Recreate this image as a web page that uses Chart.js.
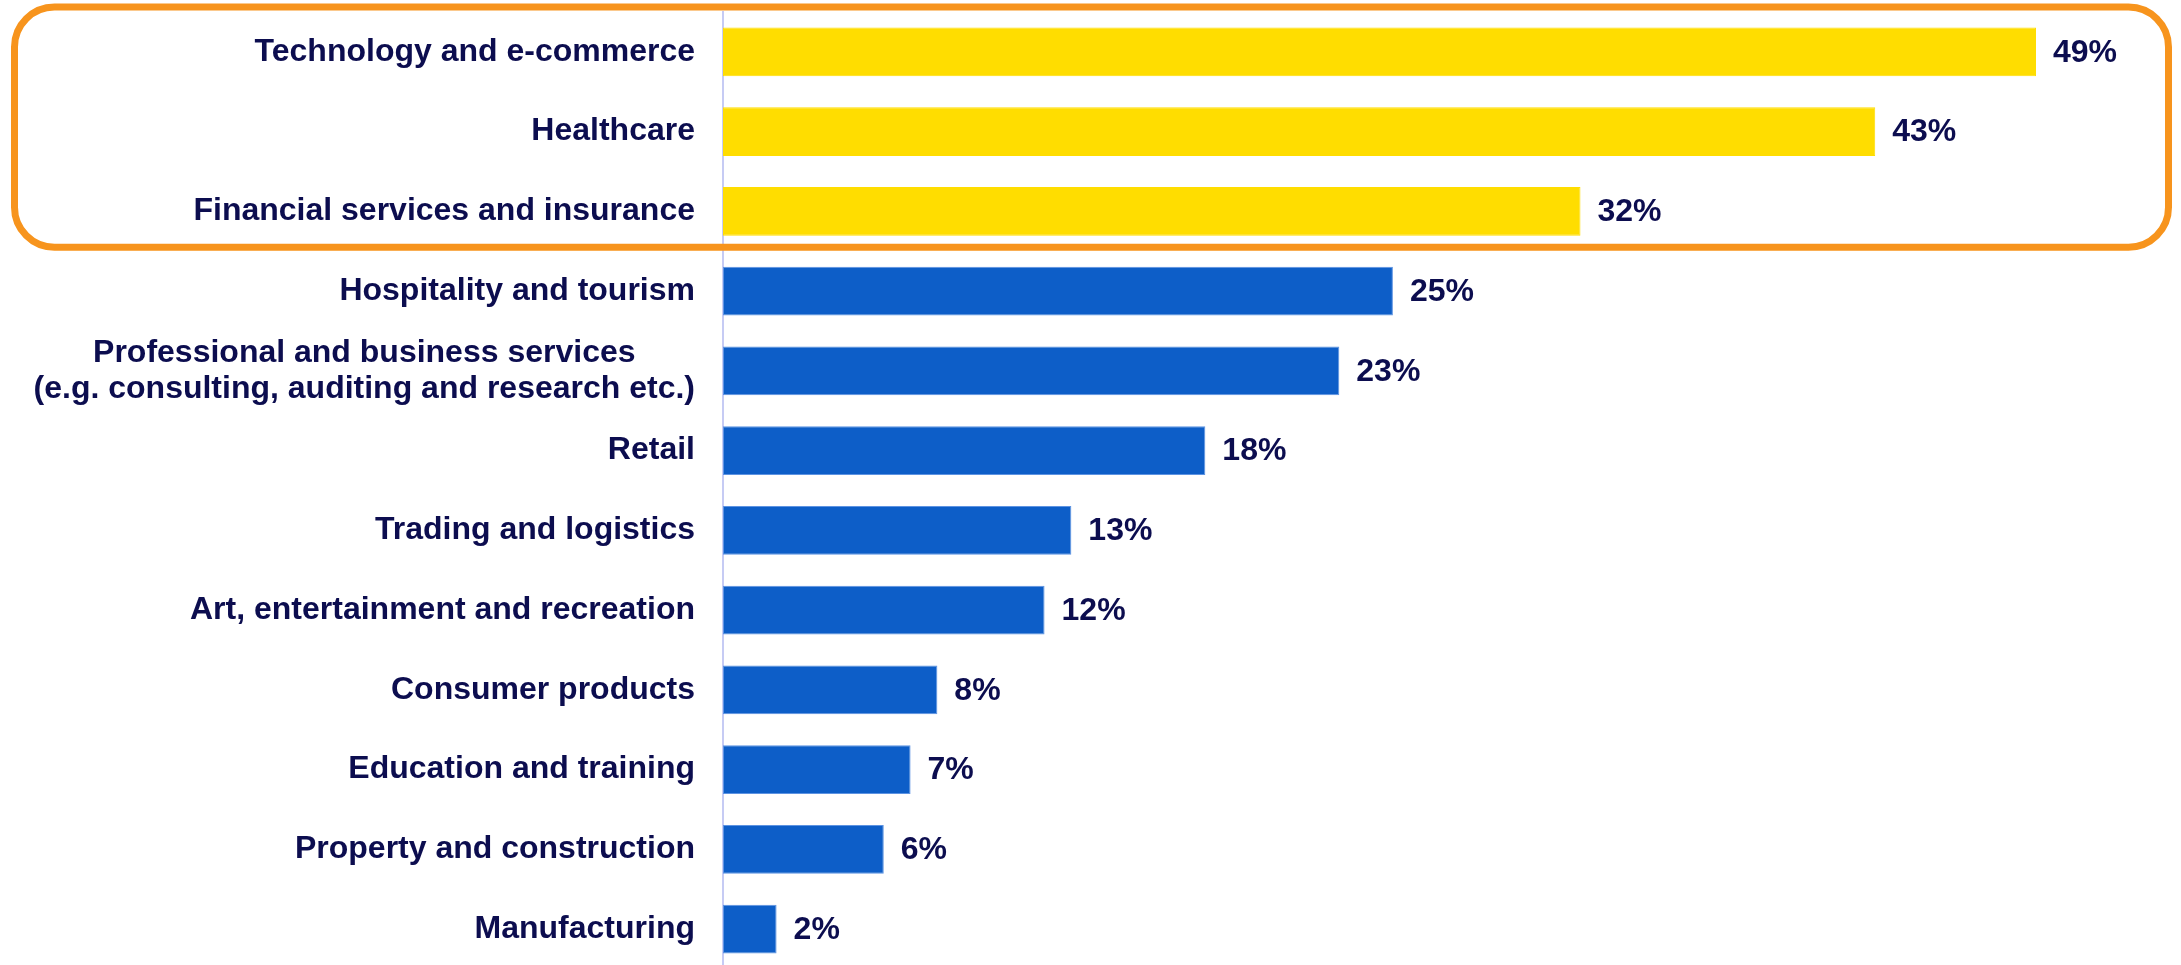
<!DOCTYPE html>
<html>
<head>
<meta charset="utf-8">
<title>Sectors</title>
<script src="https://cdn.jsdelivr.net/npm/chart.js@4.4.1/dist/chart.umd.min.js"></script>
<style>
  html, body { margin: 0; padding: 0; background: #ffffff; overflow: hidden; }
  #wrap { position: relative; width: 2181px; height: 969px; }
</style>
</head>
<body>
<div id="wrap"><canvas id="chart"></canvas></div>
<script>
// Sectors, each label given as its lines of text
const categories = [
  ['Technology and e-commerce'],
  ['Healthcare'],
  ['Financial services and insurance'],
  ['Hospitality and tourism'],
  ['Professional and business services', '(e.g. consulting, auditing and research etc.)'],
  ['Retail'],
  ['Trading and logistics'],
  ['Art, entertainment and recreation'],
  ['Consumer products'],
  ['Education and training'],
  ['Property and construction'],
  ['Manufacturing']
];

// Share of respondents (%)
const shares = [49, 43, 32, 25, 23, 18, 13, 12, 8, 7, 6, 2];

// Leading sectors picked out in yellow and framed
const highlightCount = 3;

const TEXT = '#0c0d4f';
const YELLOW = '#ffdd00';
const BLUE = '#0d5ec8';
const BLUE_EDGE = '#5d93e2';
const ORANGE = '#f7941d';
const AXIS = '#c6cbf4';
const FONT = '"Liberation Sans", Arial, Helvetica, sans-serif';

// Category labels: right-anchored block, lines centred within it
const categoryLabels = {
  id: 'categoryLabels',
  afterDraw(chart) {
    const { ctx } = chart;
    const y = chart.scales.y;
    const right = chart.chartArea.left - 28;
    const lineH = 36;
    ctx.save();
    ctx.font = 'bold 32px ' + FONT;
    ctx.fillStyle = TEXT;
    ctx.textAlign = 'center';
    ctx.textBaseline = 'middle';
    categories.forEach((lines, i) => {
      const cy = y.getPixelForTick(i);
      const w = Math.max(...lines.map(l => ctx.measureText(l).width));
      const cx = right - w / 2;
      lines.forEach((line, k) => {
        ctx.fillText(line, cx, cy + (k - (lines.length - 1) / 2) * lineH);
      });
    });
    ctx.restore();
  }
};

// Value labels just past the end of each bar
const valueLabels = {
  id: 'valueLabels',
  afterDatasetsDraw(chart) {
    const { ctx } = chart;
    const meta = chart.getDatasetMeta(0);
    ctx.save();
    ctx.font = 'bold 32px ' + FONT;
    ctx.fillStyle = TEXT;
    ctx.textAlign = 'left';
    ctx.textBaseline = 'middle';
    meta.data.forEach((bar, i) => {
      ctx.fillText(shares[i] + '%', bar.x + 17, bar.y + 1);
    });
    ctx.restore();
  }
};

// Rounded orange frame around the highlighted sectors
const highlightFrame = {
  id: 'highlightFrame',
  afterDraw(chart) {
    const { ctx } = chart;
    const y = chart.scales.y;
    const step = y.getPixelForTick(1) - y.getPixelForTick(0);
    const top = y.getPixelForTick(0) - step / 2 - 5;
    const bottom = y.getPixelForTick(highlightCount - 1) + step / 2 - 4;
    const left = 14.5;
    const right = chart.width - 12.5;
    const r = 40;
    ctx.save();
    ctx.strokeStyle = ORANGE;
    ctx.lineWidth = 7;
    ctx.beginPath();
    ctx.roundRect(left, top, right - left, bottom - top, r);
    ctx.stroke();
    ctx.restore();
  }
};

new Chart(document.getElementById('chart'), {
  type: 'bar',
  data: {
    labels: categories,
    datasets: [{
      data: shares,
      backgroundColor: shares.map((_, i) => i < highlightCount ? YELLOW : BLUE),
      borderColor: shares.map((_, i) => i < highlightCount ? YELLOW : BLUE_EDGE),
      borderWidth: 1,
      borderSkipped: false,
      barPercentage: 0.614,
      categoryPercentage: 1
    }]
  },
  options: {
    indexAxis: 'y',
    responsive: true,
    maintainAspectRatio: false,
    animation: false,
    layout: { padding: { top: 12, right: 11, bottom: 0, left: 0 } },
    plugins: {
      legend: { display: false },
      tooltip: { enabled: false },
      title: { display: false }
    },
    scales: {
      x: {
        display: false,
        min: 0,
        max: 54
      },
      y: {
        display: true,
        offset: true,
        grid: { display: false, drawTicks: false },
        border: { display: true, color: AXIS, width: 2 },
        ticks: { display: false },
        afterFit(scale) { scale.width = 723; }
      }
    }
  },
  plugins: [categoryLabels, valueLabels, highlightFrame]
});
</script>
</body>
</html>
